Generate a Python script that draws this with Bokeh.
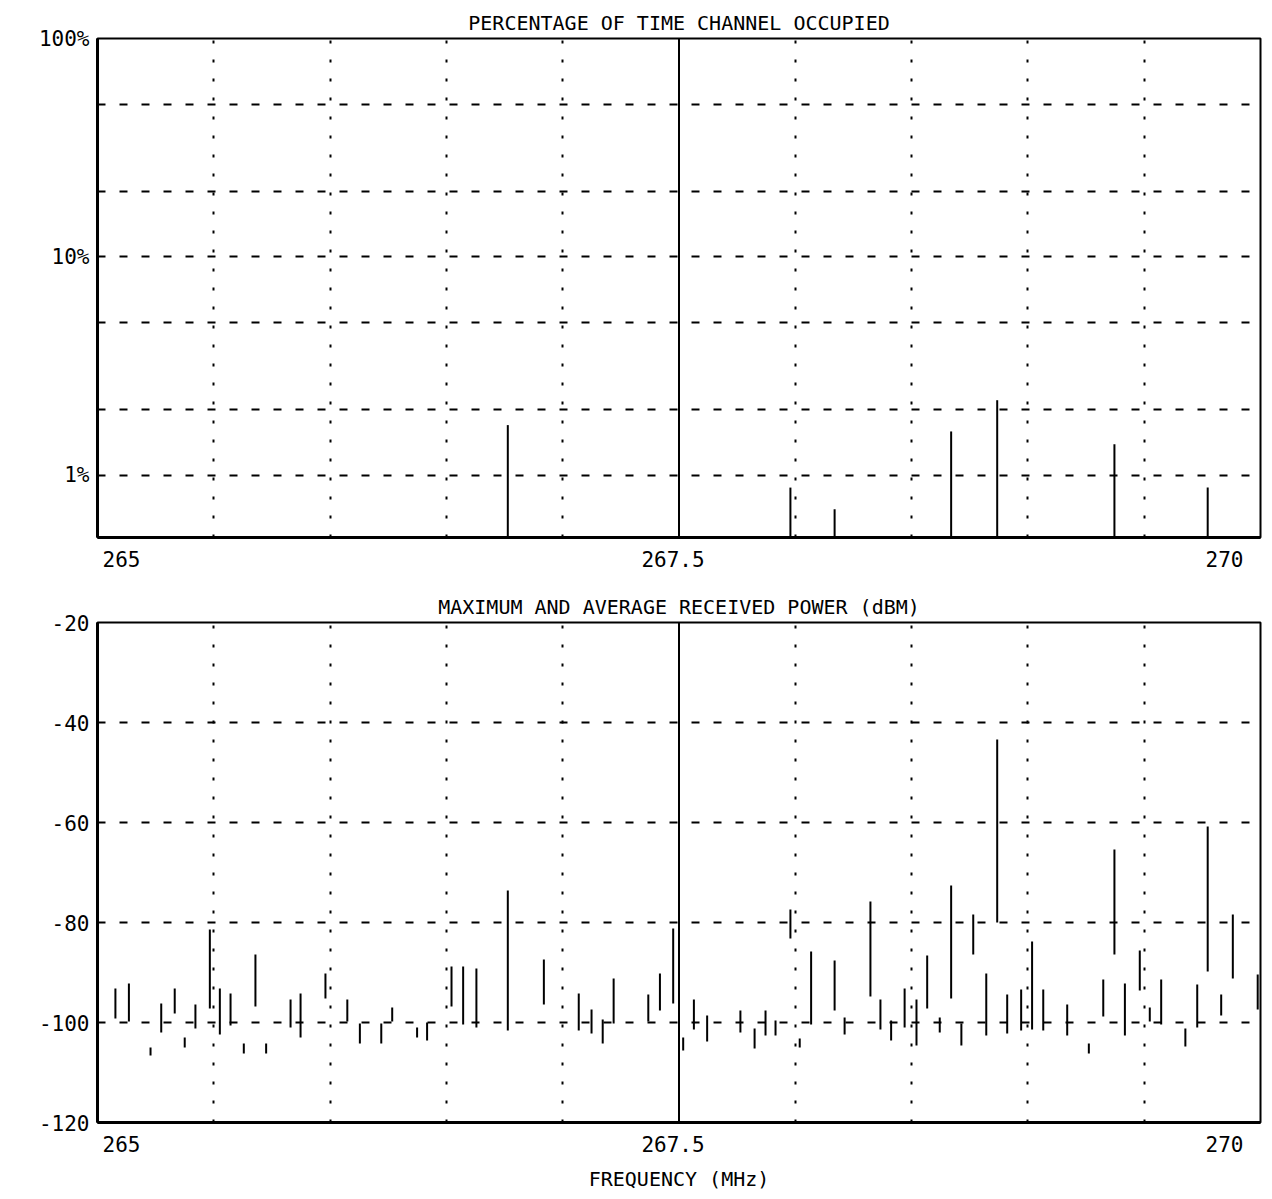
from bokeh.plotting import figure
from bokeh.layouts import column
from bokeh.models import (Range1d, FixedTicker, Span, LinearAxis,
                          CustomJSTickFormatter)
from bokeh.embed import file_html
from bokeh.resources import INLINE

# ---------------- data ----------------
# Top panel: percentage of time channel occupied
OCC_FREQ = [266.764, 267.979, 268.169, 268.670, 268.868, 269.372, 269.773]
OCC_PCT = [1.70, 0.88, 0.70, 1.59, 2.21, 1.39, 0.88]
OCC_RANGE = (0.52, 100)
OCC_TICKS = [1, 10, 100]
OCC_GRID = [1, 2, 5, 10, 20, 50]

# Bottom panel: received power, low (average) and high (maximum), dBm
PWR_FREQ = [265.077, 265.135, 265.228, 265.274, 265.332, 265.375, 265.421, 265.483,
            265.526, 265.572, 265.629, 265.679, 265.725, 265.830, 265.873, 265.980,
            266.074, 266.128, 266.220, 266.267, 266.374, 266.417, 266.522, 266.572,
            266.629, 266.764, 266.919, 267.069, 267.124, 267.172, 267.219, 267.368,
            267.418, 267.475, 267.518, 267.564, 267.621, 267.764, 267.825, 267.872,
            267.915, 267.979, 268.019, 268.068, 268.169, 268.212, 268.323, 268.366,
            268.412, 268.470, 268.521, 268.567, 268.621, 268.670, 268.714, 268.765,
            268.821, 268.868, 268.911, 268.971, 269.018, 269.066, 269.169, 269.262,
            269.324, 269.372, 269.417, 269.481, 269.524, 269.573, 269.677, 269.728,
            269.773, 269.831, 269.881, 269.988]
PWR_LOW = [-99.2, -99.8, -106.6, -102.0, -98.2, -105.0, -101.2, -97.2,
           -102.4, -100.6, -106.2, -96.8, -106.2, -101.0, -103.0, -95.2,
           -99.8, -104.2, -104.2, -99.8, -103.0, -103.6, -96.8, -100.4,
           -101.0, -101.6, -96.4, -101.6, -102.2, -104.2, -100.2, -99.8,
           -97.6, -96.2, -105.6, -101.4, -103.8, -102.0, -105.2, -102.6,
           -102.6, -83.2, -105.0, -100.4, -97.6, -102.4, -94.8, -101.4,
           -103.6, -101.0, -104.6, -97.2, -102.0, -95.2, -104.6, -86.4,
           -102.6, -80.0, -102.2, -101.6, -101.4, -101.6, -102.6, -106.2,
           -98.8, -86.4, -102.6, -93.6, -99.8, -100.4, -104.8, -101.0,
           -89.8, -98.6, -91.2, -97.4]
PWR_HIGH = [-93.2, -92.2, -105.0, -96.2, -93.2, -103.0, -96.4, -81.4,
            -93.2, -94.2, -104.2, -86.4, -104.2, -95.4, -94.2, -90.2,
            -95.4, -100.2, -100.2, -97.0, -101.0, -100.0, -88.8, -88.8,
            -89.2, -73.6, -87.4, -94.2, -97.4, -99.4, -91.2, -94.4,
            -90.2, -81.2, -103.0, -95.4, -98.6, -97.6, -101.2, -97.6,
            -99.6, -77.4, -103.2, -85.8, -87.6, -99.0, -75.8, -95.4,
            -99.6, -93.2, -95.4, -86.6, -99.0, -72.6, -100.2, -78.4,
            -90.2, -43.4, -94.4, -93.4, -83.8, -93.4, -96.4, -104.2,
            -91.4, -65.4, -92.2, -85.6, -97.0, -91.4, -101.2, -92.4,
            -60.8, -94.4, -78.4, -90.4]
PWR_RANGE = (-120, -20)
PWR_TICKS = [-120, -100, -80, -60, -40, -20]
PWR_GRID = [-100, -80, -60, -40]

X_RANGE = (265, 270)
X_TICKS = [265, 267.5, 270]
X_GRID = [265.5, 266, 266.5, 267, 268, 268.5, 269, 269.5]
X_CENTER = 267.5

TITLE_TOP = "PERCENTAGE OF TIME CHANNEL OCCUPIED"
TITLE_BOTTOM = "MAXIMUM AND AVERAGE RECEIVED POWER (dBM)"
X_TITLE = "FREQUENCY (MHz)"

# ---------------- layout constants ----------------
FONT = "DejaVu Sans Mono"
W = 1268
LEFT, RIGHT = 97, 8
FRAME_W = W - LEFT - RIGHT
# the plotter writes its end labels inset from the frame corners
LABEL_INSET_L, LABEL_INSET_R = 24, 36
u0 = LABEL_INSET_L / FRAME_W
u1 = 1 - LABEL_INSET_R / FRAME_W
span = (X_RANGE[1] - X_RANGE[0]) / (u1 - u0)
LAB_RANGE = (X_RANGE[0] - u0 * span, X_RANGE[0] - u0 * span + span)


def make_fig(height, top, bottom, y_range, y_type, title):
    p = figure(width=W, height=height, x_range=Range1d(*X_RANGE),
               y_range=Range1d(*y_range), y_axis_type=y_type,
               x_axis_location=None, output_backend="svg",
               toolbar_location=None, title=title,
               min_border_left=LEFT, min_border_right=RIGHT,
               min_border_top=top, min_border_bottom=bottom)
    p.extra_x_ranges = {"lab": Range1d(*LAB_RANGE)}
    xa = LinearAxis(x_range_name="lab", ticker=FixedTicker(ticks=X_TICKS),
                    formatter=CustomJSTickFormatter(code="return tick.toString();"))
    p.add_layout(xa, "below")
    p.title.align = "center"
    p.title.text_font = FONT
    p.title.text_font_size = "20px"
    p.title.text_font_style = "normal"
    p.title.text_color = "black"
    p.title.standoff = 8
    p.outline_line_color = "black"
    p.outline_line_width = 2
    for ax in (xa, p.yaxis[0]):
        ax.axis_line_width = 3
        ax.axis_line_color = "black"
        ax.major_tick_out = 0
        ax.major_tick_in = 0
        ax.minor_tick_out = 0
        ax.minor_tick_in = 0
        ax.major_label_text_font = FONT
        ax.major_label_text_font_size = "21px"
        ax.major_label_text_color = "black"
    xa.major_label_standoff = 13
    p.yaxis[0].major_label_standoff = 8
    p.xgrid.ticker = FixedTicker(ticks=X_GRID)
    p.xgrid.grid_line_color = "black"
    p.xgrid.grid_line_width = 2
    p.xgrid.grid_line_dash = "3 16"
    p.ygrid.grid_line_color = "black"
    p.ygrid.grid_line_width = 2
    p.ygrid.grid_line_dash = "8 14"
    p.add_layout(Span(location=X_CENTER, dimension="height",
                      line_color="black", line_width=2))
    return p, xa


# ---------------- top panel ----------------
p1, xa1 = make_fig(578, 38, 41, OCC_RANGE, "log", TITLE_TOP)
p1.yaxis[0].ticker = FixedTicker(ticks=OCC_TICKS)
p1.ygrid.ticker = FixedTicker(ticks=OCC_GRID)
p1.yaxis[0].formatter = CustomJSTickFormatter(code="return tick.toFixed(0) + '%';")
p1.segment(x0=OCC_FREQ, x1=OCC_FREQ, y0=[OCC_RANGE[0]] * len(OCC_FREQ),
           y1=OCC_PCT, line_color="black", line_width=2)

# ---------------- bottom panel ----------------
p2, xa2 = make_fig(619, 44, 75, PWR_RANGE, "linear", TITLE_BOTTOM)
p2.yaxis[0].ticker = FixedTicker(ticks=PWR_TICKS)
p2.ygrid.ticker = FixedTicker(ticks=PWR_GRID)
p2.yaxis[0].formatter = CustomJSTickFormatter(code="return tick.toFixed(0);")
p2.segment(x0=PWR_FREQ, x1=PWR_FREQ, y0=PWR_LOW, y1=PWR_HIGH,
           line_color="black", line_width=2)
xa2.axis_label = X_TITLE
xa2.axis_label_text_font = FONT
xa2.axis_label_text_font_size = "20px"
xa2.axis_label_text_font_style = "normal"
xa2.axis_label_text_color = "black"
xa2.axis_label_standoff = 12

layout = column(p1, p2)
open("out.html", "w").write(file_html(layout, INLINE))
